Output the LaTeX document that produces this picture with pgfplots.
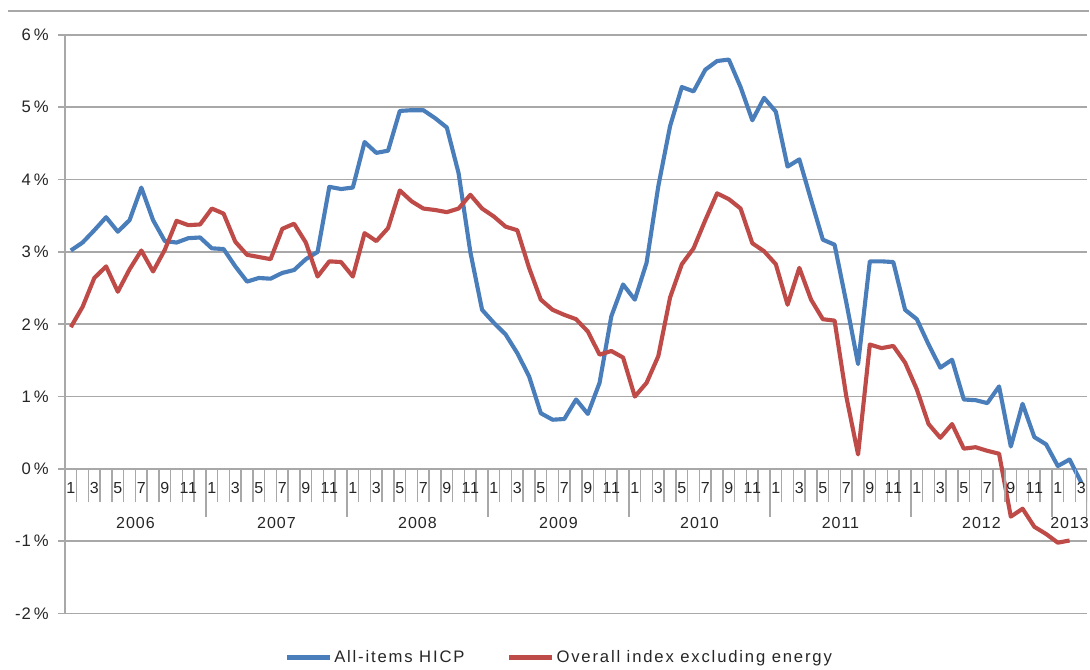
\documentclass[border=0pt]{standalone}
\usepackage{fontspec}
\setmainfont{Liberation Sans}[LetterSpace=6]
\newfontfamily\legendfont{Liberation Sans}[LetterSpace=11]
\usepackage{pgfplots}
\usepackage{pgfplotstable}
\pgfplotsset{compat=1.18}
\definecolor{hicpblue}{HTML}{4A7EBB}
\definecolor{corered}{HTML}{BE4B48}
\definecolor{gridgray}{HTML}{A8A8A8}
\definecolor{txt}{HTML}{262626}
\pgfplotstableread{
m blue red
0 3.02 1.96
1 3.13 2.24
2 3.30 2.64
3 3.48 2.80
4 3.28 2.45
5 3.44 2.76
6 3.89 3.02
7 3.44 2.73
8 3.15 3.03
9 3.13 3.43
10 3.19 3.37
11 3.20 3.38
12 3.05 3.60
13 3.04 3.53
14 2.80 3.14
15 2.59 2.96
16 2.64 2.93
17 2.63 2.90
18 2.71 3.32
19 2.75 3.39
20 2.90 3.13
21 3.00 2.66
22 3.90 2.87
23 3.87 2.86
24 3.89 2.66
25 4.52 3.26
26 4.37 3.15
27 4.40 3.33
28 4.95 3.85
29 4.96 3.70
30 4.96 3.60
31 4.85 3.58
32 4.72 3.55
33 4.09 3.60
34 3.00 3.79
35 2.20 3.60
36 2.02 3.49
37 1.86 3.35
38 1.60 3.30
39 1.28 2.78
40 0.77 2.34
41 0.68 2.20
42 0.69 2.13
43 0.96 2.07
44 0.76 1.90
45 1.19 1.58
46 2.11 1.63
47 2.55 1.54
48 2.34 1.00
49 2.85 1.19
50 3.91 1.56
51 4.74 2.37
52 5.28 2.83
53 5.22 3.05
54 5.52 3.44
55 5.64 3.81
56 5.66 3.73
57 5.28 3.60
58 4.82 3.12
59 5.13 3.01
60 4.94 2.83
61 4.18 2.27
62 4.28 2.78
63 3.72 2.34
64 3.17 2.07
65 3.10 2.05
66 2.30 1.00
67 1.45 0.20
68 2.87 1.72
69 2.87 1.67
70 2.86 1.70
71 2.20 1.47
72 2.07 1.10
73 1.72 0.62
74 1.40 0.43
75 1.51 0.62
76 0.96 0.28
77 0.95 0.30
78 0.91 0.25
79 1.14 0.21
80 0.31 -0.66
81 0.90 -0.55
82 0.44 -0.80
83 0.34 -0.90
84 0.04 -1.02
85 0.13 -0.99
86 -0.19 nan
}\hicpdata
\begin{document}
\begin{tikzpicture}
\begin{axis}[
  at={(0pt,0pt)}, anchor=south west,
  scale only axis, width=767.25pt, height=434.25pt,
  xmin=-0.5, xmax=86.5, ymin=-2, ymax=6,
  axis x line=none, axis y line*=left,
  axis line style={gridgray, line width=1.2pt},
  xtick=\empty,
  ytick={-2,-1,0,1,2,3,4,5,6},
  yticklabels={-2\,\%,-1\,\%,0\,\%,1\,\%,2\,\%,3\,\%,4\,\%,5\,\%,6\,\%},
  ymajorgrids, grid style={gridgray, line width=1.2pt},
  tick align=outside, major tick length=5.25pt,
  tick style={gridgray, line width=1.2pt},
  yticklabel style={font=\fontsize{12.5}{14}\selectfont, text=txt, xshift=-3.5pt},
  legend columns=2,
  legend style={at={(0.484,-0.076)}, anchor=center, draw=none, fill=none,
    font=\legendfont\fontsize{12.5}{14}\selectfont, text=txt,
    nodes={inner xsep=2pt},
    /tikz/every even column/.append style={column sep=30pt}},
  legend image code/.code={\draw[#1] (0pt,0pt) -- (32pt,0pt);},
]
\addplot[hicpblue, line width=3.1pt, line join=round] table[x=m, y=blue] {\hicpdata};
\addlegendentry{All-items HICP}
\addplot[corered, line width=3.1pt, line join=round] table[x=m, y=red] {\hicpdata};
\addlegendentry{Overall index excluding energy}
% month ticks
\pgfplotsinvokeforeach{-0.5,0.5,...,86.5}{
  \draw[gridgray, line width=1.1pt] (axis cs:#1,0) -- ++(0pt,-24.75pt);
}
% year separators
\pgfplotsinvokeforeach{11.5,23.5,...,83.5}{
  \draw[gridgray, line width=1.1pt] (axis cs:#1,0) -- ++(0pt,-36pt);
}
\draw[gridgray, line width=1.1pt] (axis cs:86.5,0) -- ++(0pt,-36pt);
% month labels
\pgfplotsinvokeforeach{0,2,...,86}{
  \node[font=\fontsize{12}{14}\selectfont, text=txt, anchor=center, inner sep=0pt]
    at (axis cs:#1,0) [yshift=-14.25pt] {\pgfmathtruncatemacro\mm{mod(#1,12)+1}\mm};
}
% year labels
\pgfplotsinvokeforeach{5.5,17.5,...,77.5}{
  \node[font=\fontsize{12}{14}\selectfont, text=txt, anchor=center, inner sep=0pt]
    at (axis cs:#1,0) [yshift=-40.5pt] {\pgfmathtruncatemacro\yy{(#1-5.5)/12+2006}\yy};
}
\node[font=\fontsize{12}{14}\selectfont, text=txt, anchor=center, inner sep=0pt]
    at (axis cs:85,0) [yshift=-40.5pt] {2013};
\end{axis}
\draw[gridgray, line width=1.2pt] (-42.75pt,452.25pt) -- (768.75pt,452.25pt);
\path[use as bounding box] (-48.75pt,-41.25pt) rectangle (768.75pt,460.5pt);
\end{tikzpicture}
\end{document}
